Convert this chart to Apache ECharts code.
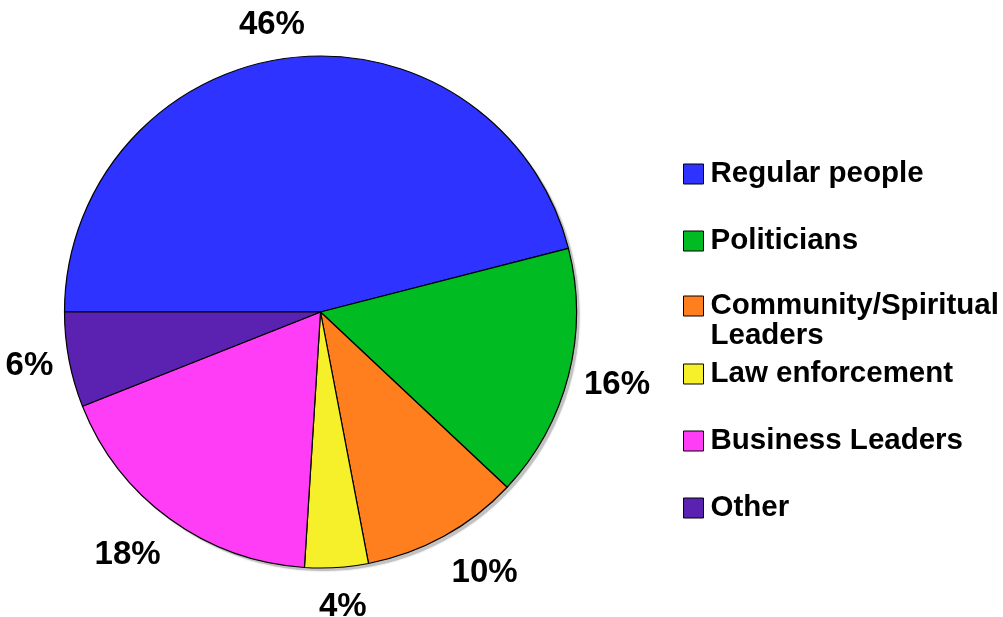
<!DOCTYPE html>
<html>
<head>
<meta charset="utf-8">
<script src="https://cdn.jsdelivr.net/npm/echarts@6/dist/echarts.min.js"></script>
<style>
html,body{margin:0;padding:0;background:#fff;}
#chart{width:1003px;height:617px;}
</style>
</head>
<body>
<div id="chart"></div>
<script>
var categories = ['Regular people', 'Politicians', 'Community/Spiritual\nLeaders', 'Law enforcement', 'Business Leaders', 'Other'];
var values = [46, 16, 10, 4, 18, 6];
var colors = ['#2E33FF', '#00BB22', '#FF7F1E', '#F6F02A', '#FF3CF6', '#5B22B2'];

var pieData = categories.map(function (c, i) {
  return { name: c, value: values[i], itemStyle: { color: colors[i] } };
});
var total = values.reduce(function (a, b) { return a + b; }, 0);

var CX = 320.5, CY = 312, R = 256, START = 180;
var FONT = '"Liberation Sans", Arial, sans-serif';

function clamp(v) { return Math.max(-1, Math.min(1, v)); }
// "outside end" label placement: anchor point on the label box slides around the box with the angle
function labelPlace(params) {
  var i = params.dataIndex;
  var cum = 0;
  for (var k = 0; k < i; k++) cum += values[k];
  var a = (START - 360 * (cum + values[i] / 2) / total) * Math.PI / 180;
  var c = Math.cos(a), s = Math.sin(a);
  var d = R + 16;
  var px = CX + c * d, py = CY - s * d;
  var hw = params.labelRect.width / 2, hh = 20;
  var fx = clamp(3.5 * c);
  var fy = Math.sign(s) * Math.max(0, Math.min(1, (Math.abs(s) - 0.2) / 0.5));
  return { x: px + fx * hw, y: py - fy * hh + 3, align: 'center', verticalAlign: 'middle' };
}

var legendBase = {
  orient: 'vertical',
  left: 683,
  padding: 0,
  itemWidth: 20,
  itemHeight: 20,
  itemGap: 37,
  icon: 'rect',
  selectedMode: false,
  itemStyle: { borderColor: '#000', borderWidth: 1 },
  textStyle: {
    fontFamily: FONT,
    fontSize: 29.5,
    fontWeight: 'bold',
    color: '#000',
    lineHeight: 30,
    padding: [0, 0, 0, 2]
  }
};
function mkLegend(top, names, fmt) {
  var l = JSON.parse(JSON.stringify(legendBase));
  l.top = top;
  l.data = names;
  if (fmt) l.formatter = fmt;
  return l;
}

var chart = echarts.init(document.getElementById('chart'));
chart.setOption({
  backgroundColor: '#ffffff',
  animation: false,
  legend: [
    mkLegend(159, [categories[0], categories[1]]),
    // leading empty line keeps the icon level with the first line of the wrapped name
    mkLegend(261, [categories[2]], function (n) { return '\n' + n; }),
    mkLegend(359, [categories[3], categories[4], categories[5]])
  ],
  series: [
    {
      type: 'pie',
      name: 'shadow',
      silent: true,
      center: [CX + 3, CY + 3],
      radius: R,
      startAngle: START,
      clockwise: true,
      label: { show: false },
      labelLine: { show: false },
      itemStyle: { color: '#c2c2c2', borderWidth: 0, shadowBlur: 2, shadowColor: 'rgba(0,0,0,0.25)' },
      emphasis: { disabled: true },
      data: [{ name: '', value: total }]
    },
    {
      type: 'pie',
      name: 'main',
      center: [CX, CY],
      radius: R,
      startAngle: START,
      clockwise: true,
      avoidLabelOverlap: false,
      label: {
        show: true,
        position: 'outside',
        formatter: '{c}%',
        fontFamily: FONT,
        fontSize: 33,
        fontWeight: 'bold',
        color: '#000'
      },
      labelLine: { show: false },
      labelLayout: labelPlace,
      itemStyle: { borderColor: '#000', borderWidth: 1.2 },
      emphasis: { disabled: true },
      data: pieData
    }
  ]
});
</script>
</body>
</html>
